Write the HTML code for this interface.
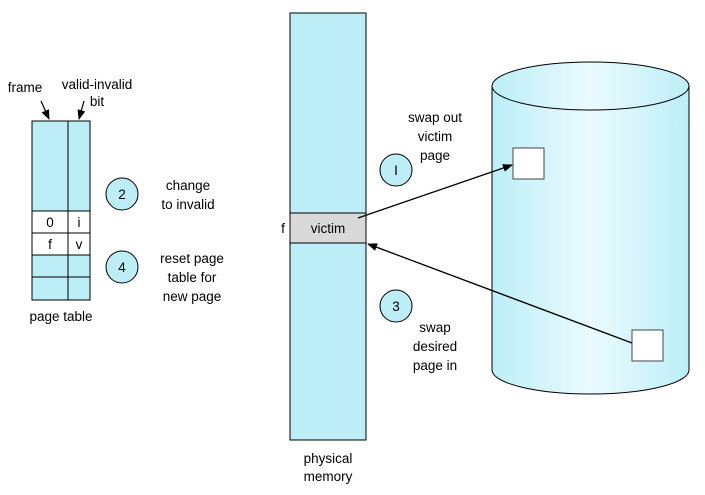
<!DOCTYPE html>
<html><head><style>
body{margin:0;background:#fff}
svg text{font-family:"Liberation Sans",sans-serif;font-size:13.5px;fill:#000}
</style></head><body>
<svg width="705" height="490" viewBox="0 0 705 490" xmlns="http://www.w3.org/2000/svg">
<defs>
<linearGradient id="g" x1="0" x2="1" y1="0" y2="0">
<stop offset="0" stop-color="#bdeef8"/><stop offset="0.5" stop-color="#eafbfe"/><stop offset="1" stop-color="#bdeef8"/>
</linearGradient>
<marker id="a" markerWidth="10" markerHeight="8" refX="9" refY="4" orient="auto" markerUnits="userSpaceOnUse">
<path d="M0,0 L10,4 L0,8 z" fill="#000"/></marker>
</defs>
<rect x="32" y="121" width="58" height="179" fill="#bdeef8" stroke="#000"/>
<rect x="32" y="211" width="58" height="44" fill="#fff" stroke="#000"/>
<line x1="68" y1="121" x2="68" y2="300" stroke="#000"/>
<line x1="32" y1="233" x2="90" y2="233" stroke="#000"/>
<line x1="32" y1="277" x2="90" y2="277" stroke="#000"/>
<text x="50" y="227" text-anchor="middle">0</text>
<text x="79" y="227" text-anchor="middle">i</text>
<text x="50" y="249" text-anchor="middle">f</text>
<text x="79" y="249" text-anchor="middle">v</text>
<text x="25" y="92" text-anchor="middle">frame</text>
<text x="97" y="89" text-anchor="middle">valid-invalid</text>
<text x="97" y="106" text-anchor="middle">bit</text>
<line x1="41" y1="101" x2="49" y2="119" stroke="#000" stroke-width="1.2" marker-end="url(#a)"/>
<line x1="84" y1="101" x2="79" y2="119" stroke="#000" stroke-width="1.2" marker-end="url(#a)"/>
<text x="61" y="321" text-anchor="middle">page  table</text>
<circle cx="122" cy="194" r="16" fill="#bdeef8" stroke="#000"/>
<text x="122" y="199" text-anchor="middle">2</text>
<circle cx="122" cy="267" r="16" fill="#bdeef8" stroke="#000"/>
<text x="122" y="272" text-anchor="middle">4</text>
<text x="188" y="190" text-anchor="middle">change</text>
<text x="188" y="209" text-anchor="middle">to invalid</text>
<text x="192" y="263" text-anchor="middle">reset page</text>
<text x="192" y="282" text-anchor="middle">table for</text>
<text x="192" y="301" text-anchor="middle">new page</text>
<rect x="290" y="13" width="76" height="427" fill="#bdeef8" stroke="#000"/>
<rect x="290" y="213" width="76" height="30" fill="#d9d9d9" stroke="#000"/>
<text x="328" y="233" text-anchor="middle">victim</text>
<text x="283" y="233" text-anchor="middle">f</text>
<text x="328" y="463" text-anchor="middle">physical</text>
<text x="328" y="481" text-anchor="middle">memory</text>
<circle cx="396" cy="170" r="16" fill="#bdeef8" stroke="#000"/>
<text x="396" y="175" text-anchor="middle">I</text>
<text x="435" y="122" text-anchor="middle">swap out</text>
<text x="435" y="141" text-anchor="middle">victim</text>
<text x="435" y="160" text-anchor="middle">page</text>
<circle cx="396" cy="306" r="16" fill="#bdeef8" stroke="#000"/>
<text x="396" y="311" text-anchor="middle">3</text>
<text x="435" y="332" text-anchor="middle">swap</text>
<text x="435" y="351" text-anchor="middle">desired</text>
<text x="435" y="370" text-anchor="middle">page in</text>
<path d="M492,86 L492,370 A98.5,24 0 0 0 689,370 L689,86 Z" fill="url(#g)" stroke="#000"/>
<ellipse cx="590.5" cy="86" rx="98.5" ry="24" fill="url(#g)" stroke="#000"/>
<rect x="513" y="148" width="31" height="31" fill="#fff" stroke="#444"/>
<rect x="632" y="330" width="31" height="31" fill="#fff" stroke="#444"/>
<line x1="358" y1="218" x2="512" y2="165" stroke="#000" stroke-width="1.3" marker-end="url(#a)"/>
<line x1="632" y1="343" x2="368" y2="244" stroke="#000" stroke-width="1.3" marker-end="url(#a)"/>
</svg>
</body></html>
